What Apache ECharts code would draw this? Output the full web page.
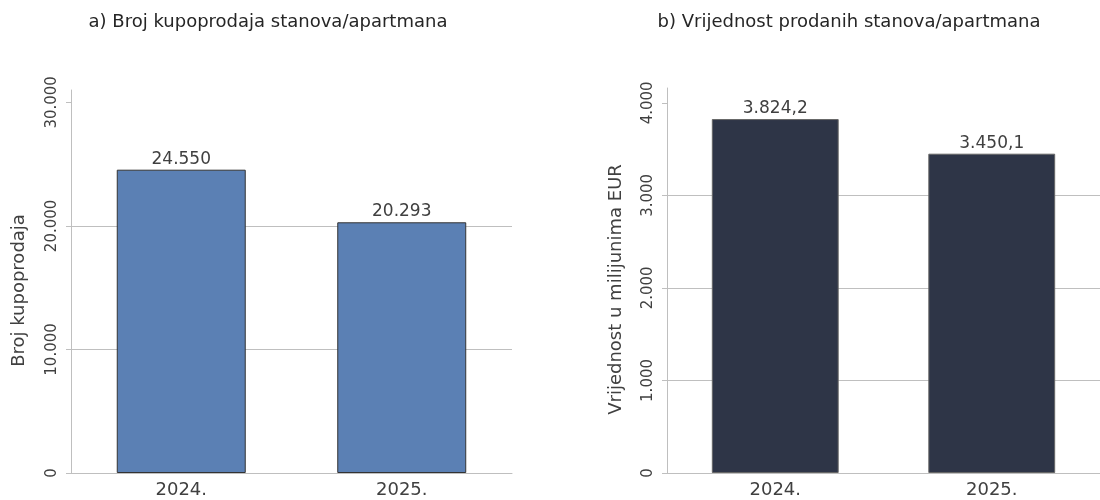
<!DOCTYPE html>
<html>
<head>
<meta charset="utf-8">
<script src="https://cdn.jsdelivr.net/npm/echarts@6/dist/echarts.min.js"></script>
<style>
html,body{margin:0;padding:0;background:#fff;}
#c{width:1100px;height:500px;}
</style>
</head>
<body>
<div id="c"></div>
<script>
const categories = ['2024.', '2025.'];
const valuesA = [24550, 20293];
const valuesB = [3824.2, 3450.1];
const ticksA = [0, 10000, 20000, 30000];
const ticksB = [0, 1000, 2000, 3000, 4000];
const titleA = 'a) Broj kupoprodaja stanova/apartmana';
const titleB = 'b) Vrijednost prodanih stanova/apartmana';
const nameA = 'Broj kupoprodaja';
const nameB = 'Vrijednost u milijunima EUR';

function fmt(v, dec) {
  const s = v.toFixed(dec);
  const parts = s.split('.');
  const intPart = parts[0].replace(/\B(?=(\d{3})+(?!\d))/g, '.');
  return parts.length > 1 ? intPart + ',' + parts[1] : intPart;
}

const FONT = 'DejaVu Sans';
const GRAY = '#bfbfbf';
const TXT = '#404040';

function yAxis(gridIndex, max, ticks, name, nameGap) {
  return {
    type: 'value', gridIndex, min: 0, max: max,
    name: name, nameLocation: 'middle', nameGap: nameGap, nameRotate: 90,
    nameTextStyle: { fontFamily: FONT, fontSize: 18, color: TXT, padding: [0, 18, 0, 0] },
    axisLine: { show: true, lineStyle: { color: GRAY, width: 1 } },
    axisTick: { show: true, length: 5, customValues: ticks, lineStyle: { color: GRAY } },
    axisLabel: { customValues: ticks, rotate: 90, margin: 11, fontFamily: FONT, fontSize: 15, color: TXT,
      formatter: v => fmt(v, 0) },
    splitLine: { show: true, showMaxLine: false, lineStyle: { color: GRAY, width: 1 } }
  };
}
function xAxis(gridIndex) {
  return {
    type: 'category', gridIndex, data: categories,
    axisLine: { show: true, lineStyle: { color: GRAY, width: 1 } },
    axisTick: { show: false },
    axisLabel: { margin: 8, fontFamily: FONT, fontSize: 18, color: TXT }
  };
}

const chart = echarts.init(document.getElementById('c'), null, { renderer: 'canvas' });
chart.setOption({
  animation: false,
  backgroundColor: '#fff',
  title: [
    { text: titleA, left: 263, top: 8, textAlign: 'center',
      textStyle: { fontFamily: FONT, fontSize: 18, fontWeight: 'normal', color: '#262626' } },
    { text: titleB, left: 844, top: 8, textAlign: 'center',
      textStyle: { fontFamily: FONT, fontSize: 18, fontWeight: 'normal', color: '#262626' } }
  ],
  grid: [
    { left: 71, width: 441, top: 90, bottom: 27 },
    { left: 667, width: 440, top: 88, bottom: 27 }
  ],
  xAxis: [xAxis(0), xAxis(1)],
  yAxis: [yAxis(0, 31000, ticksA, nameA, 43), yAxis(1, 4160, ticksB, nameB, 42)],
  series: [
    { type: 'bar', xAxisIndex: 0, yAxisIndex: 0, data: valuesA, barWidth: '58.5%',
      itemStyle: { color: '#5b80b4', borderColor: '#333333', borderWidth: 1 },
      label: { show: true, position: 'top', distance: 2, fontFamily: FONT, fontSize: 17, color: TXT,
        formatter: p => fmt(p.value, 0) } },
    { type: 'bar', xAxisIndex: 1, yAxisIndex: 1, data: valuesB, barWidth: '58.6%',
      itemStyle: { color: '#2e3547', borderColor: '#666666', borderWidth: 1 },
      label: { show: true, position: 'top', distance: 2, fontFamily: FONT, fontSize: 17, color: TXT,
        formatter: p => fmt(p.value, 1) } }
  ]
});
</script>
</body>
</html>
